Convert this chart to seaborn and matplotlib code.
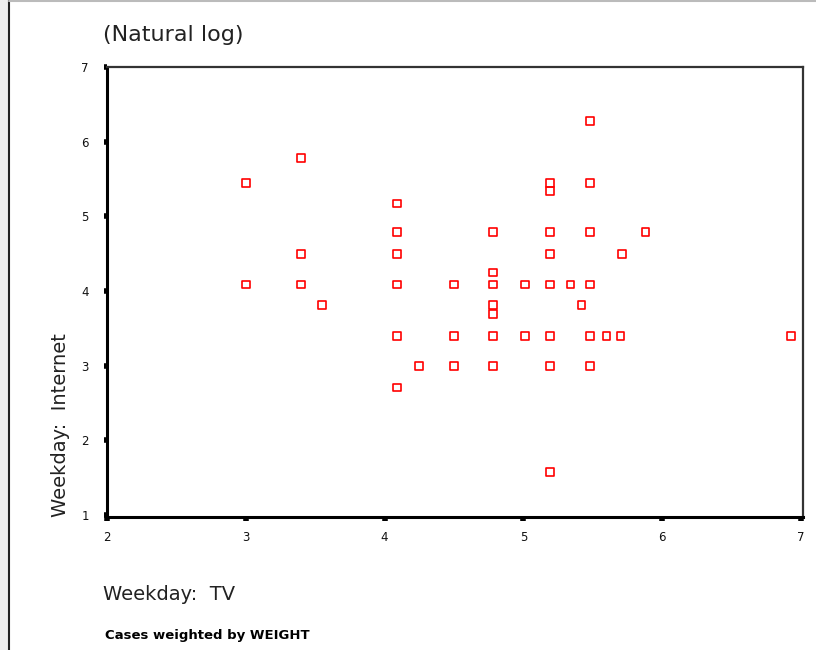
import matplotlib
matplotlib.use("Agg")
import matplotlib.pyplot as plt
import seaborn as sns
import pandas as pd
from matplotlib.patches import Rectangle
from matplotlib.lines import Line2D

# Data (natural log values)
tv = [3.00, 3.00, 3.40, 3.40, 3.40, 3.55,
      4.09, 4.09, 4.09, 4.09, 4.09, 4.09, 4.25,
      4.50, 4.50, 4.50,
      4.78, 4.78, 4.78, 4.78, 4.78, 4.78, 4.78,
      5.01, 5.01,
      5.19, 5.19, 5.19, 5.19, 5.19, 5.19, 5.19, 5.19,
      5.34, 5.42,
      5.48, 5.48, 5.48, 5.48, 5.48, 5.48,
      5.60, 5.70, 5.71, 5.88, 6.93]
internet = [5.45, 4.09, 5.78, 4.50, 4.09, 3.81,
            5.17, 4.79, 4.50, 4.09, 3.40, 2.71, 3.00,
            4.09, 3.40, 3.00,
            4.79, 4.25, 4.09, 3.81, 3.69, 3.40, 3.00,
            4.09, 3.40,
            5.45, 5.34, 4.79, 4.50, 4.09, 3.40, 3.00, 1.58,
            4.09, 3.81,
            6.28, 5.45, 4.79, 4.09, 3.40, 3.00,
            3.40, 3.40, 4.50, 4.79, 3.40]
x_ticks = [2, 3, 4, 5, 6, 7]
y_ticks = [1, 2, 3, 4, 5, 6, 7]

df = pd.DataFrame({"tv": tv, "internet": internet})

sns.set_theme(style="white")
plt.rcParams['font.family'] = ['DejaVu Sans']

fig = plt.figure(figsize=(8.16, 6.5), dpi=100)
fig.patch.set_facecolor("white")

W, H = 816, 650
ax = fig.add_axes([107 / W, (H - 517) / H, 696 / W, 450 / H])

sns.scatterplot(data=df, x="tv", y="internet", ax=ax, marker="s", s=30,
                facecolor="none", edgecolor="#ff0000", linewidth=1.2,
                legend=False, zorder=3)

ax.set_xlim(2, 7.015)
ax.set_ylim(0.975, 7.0)
ax.set_xticks(x_ticks)
ax.set_yticks(y_ticks)
ax.set_xticklabels([str(v) for v in x_ticks], fontsize=8.5, color="#111111")
ax.set_yticklabels([str(v) for v in y_ticks], fontsize=8.5, color="#111111")
ax.tick_params(axis="x", direction="out", length=3, width=4, color="black", pad=7, bottom=True)
ax.tick_params(axis="y", direction="out", length=2, width=4, color="black", pad=11, left=True)
ax.set_xlabel("")
ax.set_ylabel("")

for side in ["left", "bottom"]:
    ax.spines[side].set_linewidth(2.2)
    ax.spines[side].set_color("black")
for side in ["top", "right"]:
    ax.spines[side].set_linewidth(1.6)
    ax.spines[side].set_color("#333333")
    ax.spines[side].set_visible(True)

# Titles / labels
fig.text(103 / W, 1 - 35 / H, "(Natural log)", fontsize=16, ha="left", va="center",
         color="#222222")
fig.text(103 / W, 1 - 594 / H, "Weekday:  TV", fontsize=14, ha="left", va="center",
         color="#222222")
fig.text(60 / W, 1 - 425 / H, "Weekday:  Internet", fontsize=14, ha="center", va="center",
         rotation=90, color="#222222")
fig.text(105 / W, 1 - 636 / H, "Cases weighted by WEIGHT", fontsize=9.5, ha="left",
         va="center", color="black", fontweight="bold")

# Frame decoration
fig.patches.append(Rectangle((0, 0), 8 / W, 1, transform=fig.transFigure,
                             facecolor="#eeeeee", edgecolor="none", zorder=0))
fig.lines.append(Line2D([9 / W, 9 / W], [0, 1], transform=fig.transFigure,
                        color="#222222", linewidth=1.5))
fig.lines.append(Line2D([9 / W, 1], [1 - 0.8 / H, 1 - 0.8 / H], transform=fig.transFigure,
                        color="#bbbbbb", linewidth=1.5))

fig.savefig("out.png", dpi=100)
